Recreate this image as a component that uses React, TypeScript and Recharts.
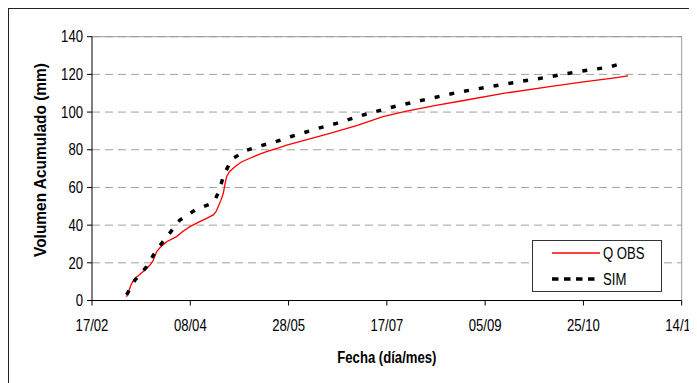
import React from 'react';
import { LineChart, Line, XAxis, YAxis, CartesianGrid, ReferenceLine, Legend, Label } from 'recharts';

const FONT = "'Liberation Sans', Arial, sans-serif";
const SQ = 0.82; // horizontal squeeze to imitate a narrow face

// days counted from 17/02
const xTicks = [0, 50, 100, 150, 200, 250, 300];
const xTickLabels = ['17/02', '08/04', '28/05', '17/07', '05/09', '25/10', '14/12'];
const yTicks = [0, 20, 40, 60, 80, 100, 120, 140];

const obsDays = [17.6, 19, 20.2, 21.9, 24, 26.9, 29.5, 31, 32.9, 35, 38, 43, 46, 49.8, 54, 58.3, 61.7, 63, 64.2, 65.5, 66.8, 67.5, 68.5, 70, 72.7, 76, 80.3, 85, 88.8, 95, 99, 105.7, 121, 135, 148, 160, 175, 190.5, 210, 232.8, 250, 265, 272.7];
const obsValues = [2, 6, 9.1, 11.8, 13.5, 16.2, 18.8, 21, 25.9, 28.5, 31.2, 33.9, 36.5, 39.2, 41.5, 43.6, 45.4, 47, 49.8, 53, 56.9, 61, 65.7, 68.5, 71, 73.5, 75.5, 77.5, 79, 81, 82.5, 84.3, 88.7, 93, 97.6, 100.5, 103.5, 106.4, 110, 113.5, 116, 118, 119.2];

const simDays = [17.6, 21.9, 27.8, 32.5, 38.8, 44.7, 52.4, 60, 62.5, 64.7, 67.1, 71, 78.1, 85.4, 93.5, 101, 108.5, 116.8, 124.4, 139.6, 154.9, 170.2, 185.4, 200.7, 216.7, 231.5, 247.2, 262.5, 270.1];
const simValues = [3, 10.9, 17.9, 26.4, 34.8, 42.7, 48, 51.2, 53, 58.6, 66.6, 74.9, 79.5, 82, 84.3, 86.9, 89.3, 91.9, 94, 99, 103.2, 106.8, 110.3, 113.2, 116, 118.5, 121.4, 123.8, 125.9];

const seriesNames = ['Q OBS', 'SIM'];

const obsData = obsDays.map((d, i) => ({ d, v: obsValues[i] }));
const simData = simDays.map((d, i) => ({ d, v: simValues[i] }));

const XTick = (props: any) => {
  const { x, y, payload } = props;
  return (
    <g transform={`translate(${x},${y}) scale(${SQ},1)`}>
      <text x={0} y={0} dy="0.71em" textAnchor="middle" fontFamily={FONT} fontSize={16} fill="#000">
        {xTickLabels[xTicks.indexOf(payload.value)]}
      </text>
    </g>
  );
};

const YTick = (props: any) => {
  const { x, y, payload } = props;
  return (
    <g transform={`translate(${x},${y}) scale(${SQ},1)`}>
      <text x={0} y={0} dy="0.355em" textAnchor="end" fontFamily={FONT} fontSize={16} fill="#000">
        {payload.value}
      </text>
    </g>
  );
};

const renderLegend = () => (
  <div style={{ width: 130, height: 52, border: '1px solid #333', boxSizing: 'border-box', background: '#fff', position: 'relative' }}>
    <svg width={128} height={50} style={{ position: 'absolute', left: 0, top: 0 }}>
      <line x1={19} x2={67} y1={12} y2={12} stroke="#ff0000" strokeWidth={1.3} />
      <g transform={`translate(70,12) scale(${SQ},1)`}>
        <text x={0} y={0} dy="0.355em" fontFamily={FONT} fontSize={16} fill="#000">{seriesNames[0]}</text>
      </g>
      <line x1={19} x2={67} y1={38} y2={38} stroke="#000" strokeWidth={3.5} strokeDasharray="6.5 5.5" />
      <g transform={`translate(70,38) scale(${SQ},1)`}>
        <text x={0} y={0} dy="0.355em" fontFamily={FONT} fontSize={16} fill="#000">{seriesNames[1]}</text>
      </g>
    </svg>
  </div>
);

export default function App() {
  return (
    <div style={{ borderTop: '1px solid #222', borderLeft: '1px solid #222', width: 688, height: 374, background: '#fff' }}>
      <LineChart width={688} height={374} data={obsData} margin={{ top: 27.7, right: 15.3, bottom: 22.5, left: 23 }}>
        <CartesianGrid vertical={false} stroke="#a0a0a0" strokeDasharray="8 5" />
        <ReferenceLine y={140} stroke="#999" />
        <ReferenceLine x={300} stroke="#999" />
        <XAxis
          type="number"
          dataKey="d"
          domain={[0, 300]}
          ticks={xTicks}
          allowDataOverflow
          interval={0}
          tick={<XTick />}
          tickSize={5}
          tickMargin={14}
          axisLine={{ stroke: '#000' }}
          tickLine={{ stroke: '#000' }}
          height={60}
        >
          <Label
            content={(props: any) => {
              const vb = props.viewBox || {};
              const cx = vb.x + vb.width / 2;
              const cy = vb.y + 56.5;
              return (
                <g transform={`translate(${cx},${cy}) scale(${SQ},1)`}>
                  <text x={0} y={0} dy="0.355em" textAnchor="middle" fontFamily={FONT} fontSize={16} fontWeight="bold" fill="#000">
                    Fecha (día/mes)
                  </text>
                </g>
              );
            }}
          />
        </XAxis>
        <YAxis
          type="number"
          domain={[0, 140]}
          ticks={yTicks}
          interval={0}
          tick={<YTick />}
          tickSize={5}
          tickMargin={4}
          axisLine={{ stroke: '#000' }}
          tickLine={{ stroke: '#000' }}
          width={60}
        >
          <Label
            content={(props: any) => {
              const vb = props.viewBox || {};
              const cx = vb.x + 8;
              const cy = vb.y + vb.height / 2 - 8.6;
              return (
                <text x={cx} y={cy} dy="0.355em" transform={`rotate(-90 ${cx} ${cy})`} textAnchor="middle" textLength={194} lengthAdjust="spacingAndGlyphs" fontFamily={FONT} fontSize={16} fontWeight="bold" fill="#000">
                  Volumen Acumulado (mm)
                </text>
              );
            }}
          />
        </YAxis>
        <Legend
          layout="horizontal"
          verticalAlign="middle"
          align="center"
          content={renderLegend}
          wrapperStyle={{ left: 522.7, top: 231, width: 130, height: 52 }}
        />
        <Line data={obsData} dataKey="v" name={seriesNames[0]} type="linear" stroke="#ff0000" strokeWidth={1.3} dot={false} activeDot={false} isAnimationActive={false} />
        <Line data={simData} dataKey="v" name={seriesNames[1]} type="linear" stroke="#000" strokeWidth={3.5} strokeDasharray="5 10" dot={false} activeDot={false} isAnimationActive={false} />
      </LineChart>
    </div>
  );
}
